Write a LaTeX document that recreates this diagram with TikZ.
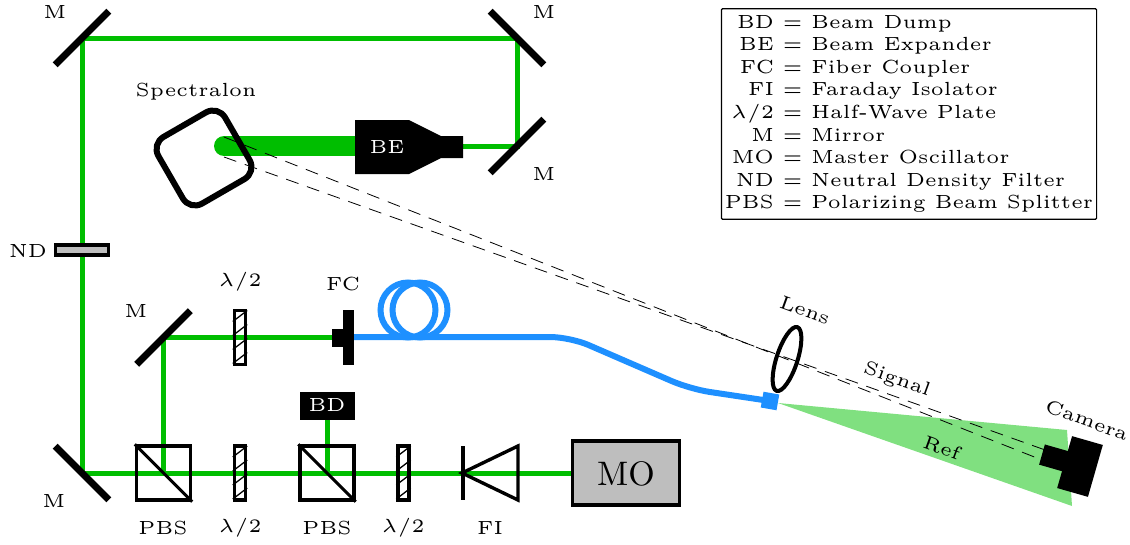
\documentclass[tikz,border=0pt]{standalone}
\usepackage{amsmath}
\usepackage{amssymb}
\usetikzlibrary{shapes.geometric,backgrounds}

\definecolor{beamgreen}{RGB}{0,190,0}
\definecolor{fiberblue}{RGB}{30,144,255}
\definecolor{refgreen}{RGB}{128,224,128}
\definecolor{boxgray}{RGB}{190,190,190}

\newcommand{\halfwave}{$\lambda/2$}

\tikzset{
  lbl/.style={font=\tiny, scale=3.8, inner sep=0pt},
  beam/.style={draw=beamgreen, line width=5pt},
  fiber/.style={draw=fiberblue, line width=6pt},
  mirror/.style={fill=black, minimum width=76pt, minimum height=7pt, inner sep=0pt},
  optic/.style={draw=black, line width=3.4pt},
  cube/.style={optic, minimum size=54pt, inner sep=0pt},
  plate/.style={optic, minimum width=11pt, minimum height=54pt, inner sep=0pt},
  blackbox/.style={fill=black, inner sep=0pt}
}

\begin{document}
\begin{tikzpicture}[x=1pt,y=-1pt]
            \useasboundingbox (0,0) rectangle (1130,544);

            \foreach \name/\x/\y/\ang in {mTL/82/38/45, mTR/517/38/-45, mBE/517/146/45, mBL/82/473/-45, mFC/163.5/337.5/45}
            {
              \node[mirror, rotate=\ang] (\name) at (\x,\y) {};
            }

            \node[cube] (pbsA) at (163.5,473) {};
            \node[cube] (pbsB) at (327,473) {};
            \foreach \c in {pbsA,pbsB}
            {
              \draw[line width=3pt] (\c.north west) -- (\c.south east);
            }

            \foreach \name/\x/\y in {plateA/240/337.5, plateB/240/473, plateC/403.5/473}
            {
              \node[plate] (\name) at (\x,\y) {};
              \foreach \k in {-26,-12,2,16}
              {
                \draw[line width=1.3pt] ([yshift=\k pt]\name.west) -- ([yshift=\k pt + 11pt]\name.east);
              }
            }

            \node[optic, fill=boxgray, minimum width=53pt, minimum height=10pt, inner sep=0pt] (nd) at (82,250) {};
            \node[optic, fill=boxgray, minimum width=107pt, minimum height=64pt, inner sep=0pt] (mo) at (626,473) {};
            \node[font=\normalsize, scale=3.4, inner sep=0pt] (molbl) at (626,473.5) {MO};

            \node[blackbox, minimum width=55pt, minimum height=28pt] (bd) at (327,406) {};
            \node[lbl, white] (bdlbl) at (327,405) {BD};

            \node[blackbox, minimum width=11pt, minimum height=55pt] (fc) at (348.5,337.5) {};
            \node[blackbox, minimum width=11pt, minimum height=18pt] (fcb) at (337.5,337.5) {};

            \draw[optic] (518,446) -- (462,473) -- (518,500) -- cycle;
            \draw[optic] (463,446) -- (463,500);

            \fill (355,120) -- (409,120) -- (441,136) -- (463,136) -- (463,158) -- (441,158) -- (409,174) -- (355,174) -- cycle;
            \node[lbl, white] (be) at (387,147) {BE};
            \coordinate (beout) at (463,146);
            \coordinate (bein) at (355,146);
            \coordinate (spot) at (224,146);

            \node[draw, line width=6pt, rounded corners=14pt, minimum size=77pt, inner sep=0pt, rotate=30] (spec) at (204,158) {};

            \node[circle, fiber, minimum size=55pt, inner sep=0pt] (coilA) at (408,310) {};
            \node[circle, fiber, minimum size=55pt, inner sep=0pt] (coilB) at (420,310) {};
            \node[fill=fiberblue, minimum width=16pt, minimum height=16pt, inner sep=0pt, rotate=-10] (launch) at (770,401) {};

            \coordinate (bendA) at (570,337);
            \coordinate (bendB) at (690,389);
            \coordinate (fcout) at (354,337);
            \draw[fiber, rounded corners=20pt] (fcout) -- (bendA) -- (bendB) -- (launch.center);

            \begin{scope}[on background layer]
              \fill[refgreen] (778,403) -- (1067,430) -- (1072,506) -- cycle;
              \draw[beam] (mo.west) -- (mBL.center) -- (mTL.center) -- (mTR.center) -- (mBE.center) -- (beout);
              \draw[beam] (pbsA.center) -- (mFC.center) -- (fcb.west);
              \draw[beam] (pbsB.center) -- (bd.south);
              \draw[draw=beamgreen, line width=20pt, line cap=round] (spot) -- (bein);
            \end{scope}

            \node[blackbox, minimum width=32pt, minimum height=54pt, rotate=-16] (cam) at (1080,466.5) {};
            \node[blackbox, minimum width=25pt, minimum height=21pt, rotate=-16] (camf) at (1054,458) {};

            \node[draw, line width=4pt, ellipse, minimum width=21pt, minimum height=67pt, inner sep=0pt, rotate=-18] (lens) at (787,359) {};

            \coordinate (specA) at (224,137);
            \coordinate (specB) at (224,157);
            \coordinate (camA) at (1042,460);
            \coordinate (camB) at (1048,451);
            \foreach \a/\b in {specA/camA, specB/camB}
            {
              \draw[line width=0.8pt, dash pattern=on 13pt off 9pt] (\a) -- (\b);
            }

            \foreach \name/\x/\y/\t in {lTL/55/12/M, lTR/544/12/M, lBE/544/174/M, lBL/54/501/M, lFC/136/311/M, lSpec/196/92/Spectralon,
              lND/28/251/ND, lPlA/240/282/\halfwave, lFC2/343/284/FC, lPbsA/163/528/PBS, lPlB/240/528/\halfwave,
              lPbsB/327/528/PBS, lPlC/403/528/\halfwave, lFI/490/528/FI}
            {
              \node[lbl] (\name) at (\x,\y) {\t};
            }

            \node[lbl, rotate=-20] (lLens) at (805,310) {Lens};
            \node[lbl, rotate=-20] (lSig) at (897,380) {Signal};
            \node[lbl, rotate=-20] (lRef) at (942,448) {Ref};
            \node[lbl, rotate=-20] (lCam) at (1087,420) {Camera};

            \node[lbl, draw, line width=1.2pt, rounded corners=1pt, inner sep=0.9pt] (legend) at (909,114) {%
              \fontsize{5}{5.95}\selectfont
              \begin{tabular}{@{}r@{ = }l@{}}
                BD & Beam Dump\\
                BE & Beam Expander\\
                FC & Fiber Coupler\\
                FI & Faraday Isolator\\
                \halfwave & Half-Wave Plate\\
                M & Mirror\\
                MO & Master Oscillator\\
                ND & Neutral Density Filter\\
                PBS & Polarizing Beam Splitter
              \end{tabular}};
\end{tikzpicture}
\end{document}
